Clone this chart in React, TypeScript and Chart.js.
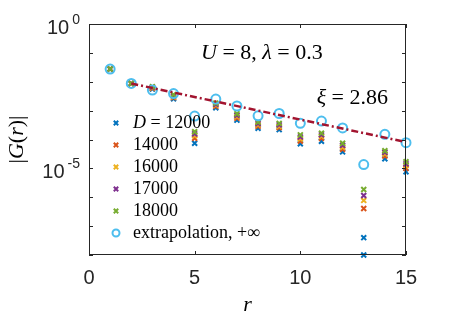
import React, { useEffect, useRef } from 'react';
import { Chart, registerables } from 'chart.js';

Chart.register(...registerables);

// distance r
const rValues = [1, 2, 3, 4, 5, 6, 7, 8, 9, 10, 11, 12, 13, 14, 15];

// log10 |G(r)|, one list per bond dimension D
const logG_D12000 = [-1.56, -2.06, -2.25, -2.59, -4.13, -2.90, -3.33, -3.61, -3.66, -4.15, -4.06, -4.43, -7.40, -4.67, -5.12];
const logG_D14000 = [-1.56, -2.06, -2.23, -2.55, -3.96, -2.85, -3.26, -3.54, -3.59, -4.05, -3.96, -4.34, -6.39, -4.57, -5.00];
const logG_D16000 = [-1.56, -2.06, -2.21, -2.52, -3.87, -2.81, -3.21, -3.49, -3.54, -3.98, -3.89, -4.27, -6.11, -4.50, -4.91];
const logG_D17000 = [-1.56, -2.06, -2.19, -2.49, -3.80, -2.78, -3.16, -3.45, -3.49, -3.91, -3.84, -4.20, -5.94, -4.44, -4.84];
const logG_D18000 = [-1.56, -2.06, -2.17, -2.45, -3.73, -2.74, -3.11, -3.40, -3.44, -3.84, -3.78, -4.13, -5.73, -4.39, -4.77];
// a second D=12000 mark sitting on the lower edge at r = 13
const extraD12000R = [13];
const extraD12000LogG = [-8.0];
// extrapolation D -> +infinity
const logG_extrap = [-1.56, -2.06, -2.29, -2.41, -3.19, -2.60, -2.84, -3.18, -3.10, -3.44, -3.36, -3.60, -4.87, -3.82, -4.11];
// exponential fit (xi = 2.86), end points
const fitR = [2, 15];
const fitLogG = [-2.06, -4.09];

const seriesLabels = ['12000', '14000', '16000', '17000', '18000'];
const seriesColors = ['#0072BD', '#D95319', '#EDB120', '#7E2F8E', '#77AC30'];
const extrapColor = '#4DBEEE';
const fitColor = '#A2142F';

const xTickValues = [0, 5, 10, 15];
const xTickLabels = ['0', '5', '10', '15'];
const yDecadeExps = [0, -1, -2, -3, -4, -5, -6, -7, -8];
const yLabelExps = [0, -5];
const yLabelTexts = ['0', '-5'];

const toPoints = (xs: number[], logs: number[]) => xs.map((x, i) => ({ x, y: Math.pow(10, logs[i]) }));

type Part = [string, string];
function drawRich(ctx: CanvasRenderingContext2D, parts: Part[], x: number, y: number, align: 'left' | 'center' | 'right') {
  let total = 0;
  const widths = parts.map(([t, f]) => {
    ctx.font = f;
    const w = ctx.measureText(t).width;
    total += w;
    return w;
  });
  let cx = align === 'left' ? x : align === 'center' ? x - total / 2 : x - total;
  ctx.textAlign = 'left';
  ctx.textBaseline = 'middle';
  parts.forEach(([t, f], i) => {
    ctx.font = f;
    ctx.fillText(t, cx, y);
    cx += widths[i];
  });
}

const SERIF = '"Liberation Serif", "DejaVu Serif", serif';
const SANS = '"Liberation Sans", Arial, sans-serif';

const overlayPlugin = {
  id: 'overlay',
  afterDraw(chart: any) {
    const { ctx, chartArea } = chart;
    const { left, right, top, bottom } = chartArea;
    const xs = chart.scales.x;
    const ys = chart.scales.y;
    ctx.save();
    // box
    ctx.strokeStyle = '#262626';
    ctx.lineWidth = 1;
    ctx.strokeRect(left + 0.5, top + 0.5, right - left - 1, bottom - top - 1);
    // ticks (inward)
    const tl = 4;
    ctx.beginPath();
    xTickValues.forEach((v) => {
      const px = Math.round(xs.getPixelForValue(v)) + 0.5;
      ctx.moveTo(px, bottom);
      ctx.lineTo(px, bottom - tl);
      ctx.moveTo(px, top);
      ctx.lineTo(px, top + tl);
    });
    yDecadeExps.forEach((e) => {
      const py = Math.round(ys.getPixelForValue(Math.pow(10, e))) + 0.5;
      ctx.moveTo(left, py);
      ctx.lineTo(left + tl, py);
      ctx.moveTo(right, py);
      ctx.lineTo(right - tl, py);
    });
    ctx.stroke();

    // x tick labels
    ctx.fillStyle = '#262626';
    ctx.font = `20px ${SANS}`;
    ctx.textAlign = 'center';
    ctx.textBaseline = 'middle';
    xTickValues.forEach((v, i) => {
      ctx.fillText(xTickLabels[i], xs.getPixelForValue(v), bottom + 23);
    });
    // y tick labels 10^e
    yLabelExps.forEach((e, i) => {
      const py = ys.getPixelForValue(Math.pow(10, e));
      const rightEdge = left - 9;
      ctx.font = `14px ${SANS}`;
      const we = ctx.measureText(yLabelTexts[i]).width;
      ctx.textAlign = 'left';
      ctx.textBaseline = 'middle';
      ctx.fillText(yLabelTexts[i], rightEdge - we, py - 4);
      ctx.font = `20px ${SANS}`;
      ctx.textAlign = 'right';
      ctx.fillText('10', rightEdge - we - 3, py + 4);
    });

    // axis titles
    ctx.fillStyle = '#000000';
    drawRich(ctx, [['r', `italic 22px ${SERIF}`]], (left + right) / 2, bottom + 50, 'center');
    ctx.save();
    ctx.translate(17, (top + bottom) / 2);
    ctx.rotate(-Math.PI / 2);
    drawRich(
      ctx,
      [
        ['|', `22px ${SERIF}`],
        ['G', `italic 22px ${SERIF}`],
        ['(', `22px ${SERIF}`],
        ['r', `italic 22px ${SERIF}`],
        [')', `22px ${SERIF}`],
        ['|', `22px ${SERIF}`],
      ],
      0,
      0,
      'center'
    );
    ctx.restore();

    // annotations
    drawRich(
      ctx,
      [
        ['U', `italic 22px ${SERIF}`],
        [' = 8, ', `22px ${SERIF}`],
        ['λ', `italic 22px ${SERIF}`],
        [' = 0.3', `22px ${SERIF}`],
      ],
      201,
      53,
      'left'
    );
    drawRich(
      ctx,
      [
        ['ξ', `italic 22px ${SERIF}`],
        [' = 2.86', `22px ${SERIF}`],
      ],
      388,
      98,
      'right'
    );

    // legend
    const lx = 116;
    const tx = 133;
    const y0 = 123;
    const dy = 22;
    seriesLabels.forEach((lab, i) => {
      const yy = y0 + i * dy;
      ctx.strokeStyle = seriesColors[i];
      ctx.lineWidth = 2;
      const s = 2.2;
      ctx.beginPath();
      ctx.moveTo(lx - s, yy - s);
      ctx.lineTo(lx + s, yy + s);
      ctx.moveTo(lx - s, yy + s);
      ctx.lineTo(lx + s, yy - s);
      ctx.stroke();
      ctx.fillStyle = '#000000';
      if (i === 0) {
        drawRich(
          ctx,
          [
            ['D', `italic 18px ${SERIF}`],
            [' = ' + lab, `18px ${SERIF}`],
          ],
          tx,
          yy,
          'left'
        );
      } else {
        drawRich(ctx, [[lab, `18px ${SERIF}`]], tx, yy, 'left');
      }
    });
    const ey = y0 + seriesLabels.length * dy;
    ctx.strokeStyle = extrapColor;
    ctx.lineWidth = 2;
    ctx.beginPath();
    ctx.arc(lx, ey, 3.5, 0, Math.PI * 2);
    ctx.stroke();
    ctx.fillStyle = '#000000';
    drawRich(ctx, [['extrapolation, +∞', `18px ${SERIF}`]], tx, ey, 'left');

    ctx.restore();
  },
};

export default function App() {
  const ref = useRef<HTMLCanvasElement | null>(null);
  useEffect(() => {
    if (!ref.current) return;
    const crossSets = seriesLabels.map((lab, i) => {
      const logs = [logG_D12000, logG_D14000, logG_D16000, logG_D17000, logG_D18000][i];
      let data = toPoints(rValues, logs);
      if (i === 0) data = data.concat(toPoints(extraD12000R, extraD12000LogG));
      return {
        label: 'D = ' + lab,
        data,
        pointStyle: 'crossRot',
        pointRadius: 3.5,
        pointBorderWidth: 2,
        borderColor: seriesColors[i],
        backgroundColor: seriesColors[i],
        showLine: false,
        clip: false,
        order: 6 - i,
      };
    });
    const chart = new Chart(ref.current, {
      type: 'scatter',
      data: {
        datasets: [
          ...crossSets,
          {
            label: 'extrapolation',
            data: toPoints(rValues, logG_extrap),
            pointStyle: 'circle',
            pointRadius: 4.5,
            pointBorderWidth: 2,
            borderColor: extrapColor,
            backgroundColor: 'rgba(0,0,0,0)',
            showLine: false,
            clip: false,
            order: 1,
          },
          {
            label: 'fit',
            data: toPoints(fitR, fitLogG),
            showLine: true,
            pointRadius: 0,
            borderColor: fitColor,
            borderWidth: 2.5,
            borderDash: [7, 3, 2, 3],
            clip: false,
            order: 0,
          },
        ] as any,
      },
      options: {
        responsive: false,
        animation: false,
        events: [],
        layout: { padding: { left: 89, right: 43, top: 24, bottom: 66 } },
        scales: {
          x: { type: 'linear', min: 0, max: 15, display: false },
          y: { type: 'logarithmic', min: 1e-8, max: 1, display: false },
        },
        plugins: { legend: { display: false }, tooltip: { enabled: false } },
      },
      plugins: [overlayPlugin],
    });
    return () => chart.destroy();
  }, []);
  return (
    <div style={{ position: 'absolute', left: 0, top: 0, width: 449, height: 321, background: '#ffffff' }}>
      <canvas ref={ref} width={449} height={321} style={{ display: 'block' }} />
    </div>
  );
}
